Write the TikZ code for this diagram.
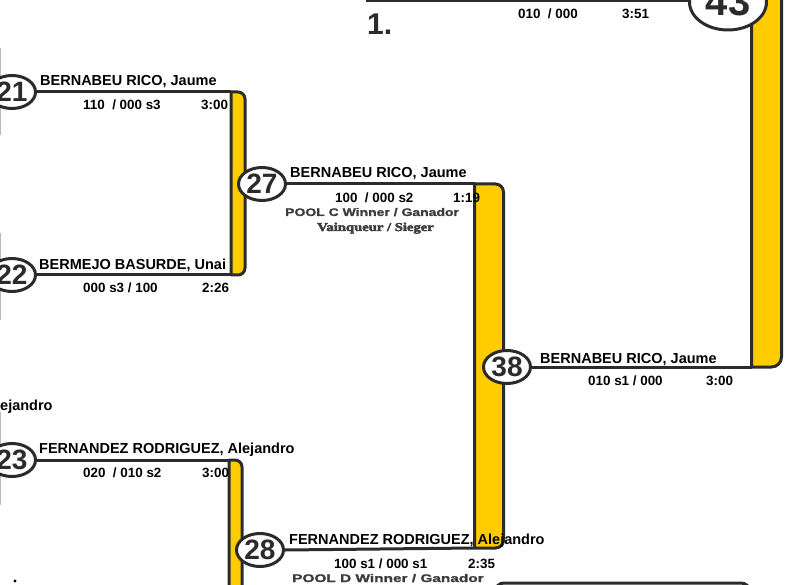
\documentclass[tikz,border=0pt]{standalone}
\usepackage{fontspec}
\usepackage{graphicx}
\setmainfont{Liberation Sans}
\newfontfamily\fatserif{Liberation Serif}[FakeBold=3]
\newfontfamily\heavysans{Liberation Sans}[FakeBold=1.2]
\usetikzlibrary{shapes.geometric}
\definecolor{dk}{HTML}{2B2B2B}
\definecolor{gold}{HTML}{FFCC00}
\definecolor{pool}{HTML}{3C3C3C}
\begin{document}
\begin{tikzpicture}[x=1pt,y=-1pt,
 nm/.style={anchor=base west,inner sep=0,font=\fontsize{14.5}{16}\selectfont\bfseries,text=black},
 sc/.style={anchor=base west,inner sep=0,font=\fontsize{13.4}{15}\selectfont\bfseries,text=black},
 pl/.style={anchor=base west,inner sep=0,font=\fontsize{11}{12}\selectfont\heavysans\bfseries,text=pool},
 vq/.style={anchor=base west,inner sep=0,font=\fontsize{12}{13}\selectfont\fatserif\bfseries,text=pool},
 num/.style={ellipse,draw=dk,line width=3pt,fill=white,minimum width=47pt,minimum height=33pt,inner sep=0,font=\fontsize{28}{28}\selectfont\bfseries,text=dk},
 barbox/.style={draw=dk,line width=3pt,fill=gold,line join=round},
 lnk/.style={draw=dk,line width=3pt},
 thinedge/.style={draw=gray!55,line width=1pt}]
\useasboundingbox (0,0) rectangle (787,585);

% thin edges of previous round (cut at left)
\draw[thinedge] (0.5,48) -- (0.5,135);
\draw[thinedge] (0.5,233) -- (0.5,320);
\draw[thinedge] (0.5,412) -- (0.5,505);

% bars
\coordinate (aT) at (231,92); \coordinate (aTR) at (245,92);
\coordinate (aBR) at (245,275); \coordinate (aB) at (231,275);
\path[barbox] (aT) [rounded corners=7pt] -- (aTR) -- (aBR) [sharp corners] -- (aB) -- cycle;

\coordinate (bT) at (229,460); \coordinate (bTR) at (242,460);
\coordinate (bBR) at (242,640); \coordinate (bB) at (229,640);
\path[barbox] (bT) [rounded corners=7pt] -- (bTR) -- (bBR) [sharp corners] -- (bB) -- cycle;

\coordinate (cT) at (474.5,184); \coordinate (cTR) at (503.5,184);
\coordinate (cBR) at (503.5,548); \coordinate (cB) at (474.5,548);
\path[barbox] (cT) [rounded corners=8pt] -- (cTR) -- (cBR) [sharp corners] -- (cB) -- cycle;

\coordinate (dT) at (751.5,-60); \coordinate (dTR) at (781.5,-60);
\coordinate (dBR) at (781.5,367); \coordinate (dB) at (751.5,367);
\path[barbox] (dT) [rounded corners=10pt] -- (dTR) -- (dBR) [sharp corners] -- (dB) -- cycle;

% bottom box (cut)
\draw[lnk,fill=white,rounded corners=9pt] (495,583) rectangle (750,650);

% circles
\node[num] (c21) at (12,92) {21};
\node[num] (c22) at (12,275) {22};
\node[num] (c23) at (12,460) {23};
\node[num] (c27) at (262,184) {27};
\node[num] (c28) at (260,550) {28};
\node[num] (c38) at (507,367) {38};
\node[num,minimum width=77pt,minimum height=56pt,font=\fontsize{40}{40}\selectfont\bfseries] (c43) at (728,2) {43};

% links
\draw[lnk] (c21.east) -- (aT);
\draw[lnk] (c22.east) -- (aB);
\draw[lnk] (c23.east) -- (bT);
\draw[lnk] (c27.east) -- (cT);
\draw[lnk] (c28.east) -- (cB);
\draw[lnk] (c38.east) -- (dB);
\coordinate (tl) at (366,1);
\draw[lnk] (tl) -- (tl -| c43.west);

% texts
\node[nm] (n21) at (40,86) {BERNABEU RICO, Jaume};
\node[sc] (s21) at (83,110) {110\ \ / 000 s3};
\node[sc] (t21) at (201,110) {3:00};

\node[nm] (n22) at (39,270) {BERMEJO BASURDE, Unai};
\node[sc] (s22) at (83,293) {000 s3 / 100};
\node[sc] (t22) at (202,293) {2:26};

\node[nm] (n27) at (290,178) {BERNABEU RICO, Jaume};
\node[sc] (s27) at (335,203) {100\ \ / 000 s2};
\node[sc] (t27) at (453,203) {1:19};
\node[pl] (p27) at (285,216) {\scalebox{1.27}[1]{POOL C Winner / Ganador}};
\node[vq] (v27) at (317,231) {\scalebox{1.22}[1]{Vainqueur / Sieger}};

\node[nm] (n38) at (540,363) {BERNABEU RICO, Jaume};
\node[sc] (s38) at (588,385) {010 s1 / 000};
\node[sc] (t38) at (706,385) {3:00};

\node[nm] (n23) at (39,453) {FERNANDEZ RODRIGUEZ, Alejandro};
\node[sc] (s23) at (83,477) {020\ \ / 010 s2};
\node[sc] (t23) at (202,477) {3:00};

\node[nm] (n28) at (289,544) {FERNANDEZ RODRIGUEZ, Alejandro};
\node[sc] (s28) at (334,568) {100 s1 / 000 s1};
\node[sc] (t28) at (468,568) {2:35};
\node[pl] (p28) at (292,582) {\scalebox{1.40}[1]{POOL D Winner / Ganador}};

\node[sc] (s43) at (518,19) {010\ \ / 000};
\node[sc] (t43) at (622,19) {3:51};
\node[anchor=base west,inner sep=0,font=\fontsize{30}{30}\selectfont\bfseries,text=dk] (rank) at (367,35) {1.};

\node[nm] (frag) at (0,410) {ejandro};
\fill[black] (15,581) circle[radius=1.6pt];
\end{tikzpicture}
\end{document}
